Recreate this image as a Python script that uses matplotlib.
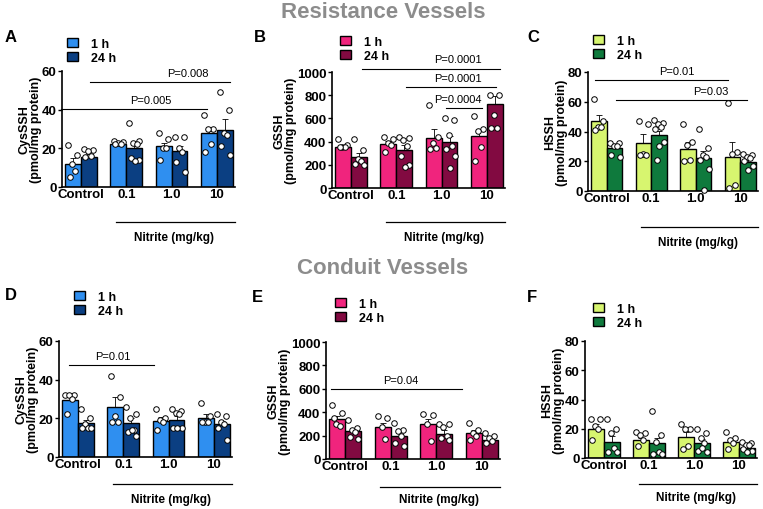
import numpy as np
import matplotlib
matplotlib.use('Agg')
import matplotlib.pyplot as plt
from matplotlib.patches import Patch
from matplotlib.transforms import blended_transform_factory

plt.rcParams['font.family'] = ['Liberation Sans', 'DejaVu Sans']

W, H = 763, 510

groups = ['Control', '0.1', '1.0', '10']

# panel A - CysSSH resistance
a_mean_1h = [12, 22.5, 21, 28]
a_sem_1h = [3, 1, 2, 2.5]
a_mean_24h = [15.5, 20, 18.5, 29.5]
a_sem_24h = [1.5, 3, 2.5, 5.5]
a_pts_1h = [[21.5, 16.5, 12, 8.5, 5], [24, 23.5, 23, 22.5, 22],
            [28, 25, 20, 20, 14], [37, 30, 30, 22, 18]]
a_pts_24h = [[19.5, 19, 18.5, 16, 15.5], [33, 24, 23, 22, 15, 14, 13.5],
             [26, 26, 20, 18, 13, 8], [49, 40, 28, 27, 21, 16.5]]

# panel B - GSSH resistance
b_mean_1h = [355, 380, 435, 445]
b_sem_1h = [15, 25, 75, 55]
b_mean_24h = [265, 325, 400, 720]
b_sem_24h = [35, 45, 50, 70]
b_pts_1h = [[420, 370, 355, 355, 350], [440, 420, 390, 370, 310],
            [715, 440, 390, 345, 340], [620, 510, 490, 350, 230]]
b_pts_24h = [[425, 330, 250, 230, 210, 200], [440, 430, 410, 360, 280, 200, 180],
             [600, 590, 460, 360, 340, 280, 170], [805, 805, 630, 520, 515]]

# panel C - HSSH resistance
c_mean_1h = [47, 32, 28, 23]
c_sem_1h = [4, 6, 5, 10]
c_mean_24h = [29, 37.5, 22.5, 19.5]
c_sem_24h = [2, 3, 4.5, 2.5]
c_pts_1h = [[62, 47, 43, 43, 41], [47, 45, 25, 24, 24],
            [45, 33, 31, 21, 20], [59, 26, 25, 4, 2]]
c_pts_24h = [[32, 32, 30, 30, 24, 23], [48, 46, 45, 43, 42, 33, 30, 21],
             [42, 29, 24, 23, 21, 15, 1], [25, 24, 23, 22, 20, 17, 14]]

# panel D - CysSSH conduit
d_mean_1h = [29.5, 26, 18.5, 20]
d_sem_1h = [1.5, 5, 2, 2.5]
d_mean_24h = [17.5, 17.5, 19, 17]
d_sem_24h = [1.5, 2.5, 2, 1.5]
d_pts_1h = [[32, 32, 32, 30, 22], [42, 31, 21, 18, 18],
            [25, 20, 19, 18, 14], [28, 21, 18, 18, 18]]
d_pts_24h = [[25, 20, 17, 15, 15, 15], [26, 22, 20, 14, 13, 11, 14],
             [25, 24, 23, 22, 15, 15, 15], [22, 21, 18, 17, 15, 9]]

# panel E - GSSH conduit
e_mean_1h = [345, 270, 295, 220]
e_sem_1h = [20, 40, 45, 30]
e_mean_24h = [240, 200, 215, 165]
e_sem_24h = [20, 40, 35, 15]
e_pts_1h = [[460, 390, 300, 280, 350], [370, 350, 270, 175],
            [385, 375, 300, 150], [310, 250, 220, 200, 160]]
e_pts_24h = [[335, 265, 250, 230, 190, 170], [310, 250, 240, 200, 140, 110],
             [300, 300, 270, 200, 180, 160], [220, 200, 180, 150, 140]]

# panel F - HSSH conduit
f_mean_1h = [20, 12, 14.5, 11]
f_sem_1h = [3, 2, 3.5, 2]
f_mean_24h = [11, 10.5, 10, 7]
f_sem_24h = [4, 3.5, 3, 1.5]
f_pts_1h = [[27, 27, 22, 20, 12], [18, 17, 16, 12, 8],
            [23, 20, 20, 8, 6], [18, 14, 12, 10, 6]]
f_pts_24h = [[27, 20, 17, 7, 4, 4], [32, 16, 11, 4, 3, 3],
             [20, 17, 14, 10, 5, 4, 7], [11, 10, 9, 9, 6, 5, 4]]

blue = ('#2f8ff0', '#0b3f82')
pink = ('#f0247d', '#820a41')
green = ('#d7f56f', '#0f7a3d')

fig = plt.figure(figsize=(W / 100, H / 100), dpi=100)

BW = 0.35
# horizontal scatter pattern inside a bar (fraction of half bar width)
JIT = [-0.6, 0.55, -0.1, 0.3, -0.45, 0.65, 0.05, -0.3]


def add_axes(left, top, right, bottom):
    return fig.add_axes([left / W, 1 - bottom / H, (right - left) / W, (bottom - top) / H])


def scatter_pts(ax, xc, vals):
    offs = np.array(JIT[:len(vals)]) * BW / 2
    ax.scatter(xc + offs, vals, s=16, facecolor='white',
               edgecolor='black', linewidth=0.7, zorder=4, clip_on=False)


def panel(box, letter, letter_xy, leg_xy, nit_dy, ylab, ymax, step, cols,
          m1, s1, m2, s2, p1, p2, pvals):
    ax = add_axes(*box)
    x = np.arange(4)
    for xs, m, s, p, c in ((x - BW / 2, m1, s1, p1, cols[0]),
                           (x + BW / 2, m2, s2, p2, cols[1])):
        ax.bar(xs, m, width=BW, color=c, edgecolor='black', linewidth=1.0, zorder=2)
        ax.errorbar(xs, m, yerr=[np.zeros(4), s], fmt='none', ecolor='black',
                    elinewidth=0.6, capsize=2.5, capthick=0.6, zorder=3)
        for xi, pts in zip(xs, p):
            scatter_pts(ax, xi, pts)
    ax.set_xlim(-0.42, 3.4)
    ax.set_ylim(0, ymax)
    ax.set_yticks(np.arange(0, ymax + 1, step))
    ax.set_xticks(x)
    ax.set_xticklabels(groups, fontsize=9.5, fontweight='bold')
    for lab in ax.get_yticklabels():
        lab.set_fontweight('bold')
        lab.set_fontsize(9.5)
    ax.tick_params(axis='x', length=0, pad=1)
    ax.tick_params(axis='y', length=3, width=1.0, pad=1)
    for sp in ('top', 'right'):
        ax.spines[sp].set_visible(False)
    for sp in ('left', 'bottom'):
        ax.spines[sp].set_linewidth(1.2)
    ax.set_ylabel(ylab, fontsize=9, fontweight='bold', labelpad=0, linespacing=0.95)

    # significance bars
    for x0, x1, yv, tx, txt in pvals:
        ax.plot([x0, x1], [yv, yv], color='black', lw=0.8, clip_on=False)
        ax.text(tx, yv + ymax * 0.035, txt, ha='center', va='bottom', fontsize=8)

    # Nitrite group line under the axis
    hpx = box[3] - box[1]
    tr = blended_transform_factory(ax.transData, ax.transAxes)
    ax.plot([0.77, 3.4], [-nit_dy[0] / hpx] * 2, color='black', lw=0.9,
            transform=tr, clip_on=False)
    ax.text(2.05, -nit_dy[1] / hpx, 'Nitrite (mg/kg)', transform=tr, ha='center',
            va='center', fontsize=8.5, fontweight='bold')

    # legend and letter
    handles = [Patch(facecolor=cols[0], edgecolor='black', label='1 h'),
               Patch(facecolor=cols[1], edgecolor='black', label='24 h')]
    fig.legend(handles=handles, loc='upper left',
               bbox_to_anchor=(leg_xy[0] / W, 1 - leg_xy[1] / H),
               frameon=False, prop={'weight': 'bold', 'size': 9},
               handlelength=0.9, handleheight=0.75, handletextpad=1.0,
               labelspacing=0.15, borderpad=0.0, borderaxespad=0.0)
    fig.text(letter_xy[0] / W, 1 - letter_xy[1] / H, letter,
             fontsize=12, fontweight='bold', va='center', ha='left')
    return ax


panel((62, 72, 235, 188), 'A', (5, 38), (67, 39), (35, 50),
      'CysSSH\n(pmol/mg protein)', 60, 20, blue,
      a_mean_1h, a_sem_1h, a_mean_24h, a_sem_24h, a_pts_1h, a_pts_24h,
      [(-0.44, 2.78, 40.5, 1.54, 'P=0.005'), (0.2, 3.3, 54.5, 2.37, 'P=0.008')])
panel((332, 73, 505, 189), 'B', (254, 38), (340, 37), (34, 49),
      'GSSH\n(pmol/mg protein)', 1000, 200, pink,
      b_mean_1h, b_sem_1h, b_mean_24h, b_sem_24h, b_pts_1h, b_pts_24h,
      [(0.24, 3.3, 1030, 2.35, 'P=0.0001'), (1.22, 3.2, 871, 2.35, 'P=0.0001'),
       (2.1, 2.9, 689, 2.35, 'P=0.0004')])
panel((588, 73, 758, 192), 'C', (527, 38), (593, 36), (36, 51),
      'HSSH\n(pmol/mg protein)', 80, 20, green,
      c_mean_1h, c_sem_1h, c_mean_24h, c_sem_24h, c_pts_1h, c_pts_24h,
      [(-0.26, 2.72, 74.8, 1.57, 'P=0.01'), (0.22, 3.15, 61, 2.33, 'P=0.03')])
panel((59, 342, 232, 458), 'D', (5, 295), (74, 292), (27, 42),
      'CysSSH\n(pmol/mg protein)', 60, 20, blue,
      d_mean_1h, d_sem_1h, d_mean_24h, d_sem_24h, d_pts_1h, d_pts_24h,
      [(-0.2, 1.67, 47.5, 0.76, 'P=0.01')])
panel((326, 343, 500, 460), 'E', (252, 298), (335, 299), (28, 40),
      'GSSH\n(pmol/mg protein)', 1000, 200, pink,
      e_mean_1h, e_sem_1h, e_mean_24h, e_sem_24h, e_pts_1h, e_pts_24h,
      [(-0.3, 2.57, 600, 1.22, 'P=0.04')])
panel((585, 342, 757, 459), 'F', (527, 298), (593, 304), (26, 39),
      'HSSH\n(pmol/mg protein)', 80, 20, green,
      f_mean_1h, f_sem_1h, f_mean_24h, f_sem_24h, f_pts_1h, f_pts_24h, [])

fig.text(383 / W, 1 - 12 / H, 'Resistance Vessels', ha='center', va='center',
         fontsize=16, fontweight='bold', color='#8c8c8c')
fig.text(383 / W, 1 - 268 / H, 'Conduit Vessels', ha='center', va='center',
         fontsize=16, fontweight='bold', color='#8c8c8c')

fig.savefig('out.png', dpi=100)
